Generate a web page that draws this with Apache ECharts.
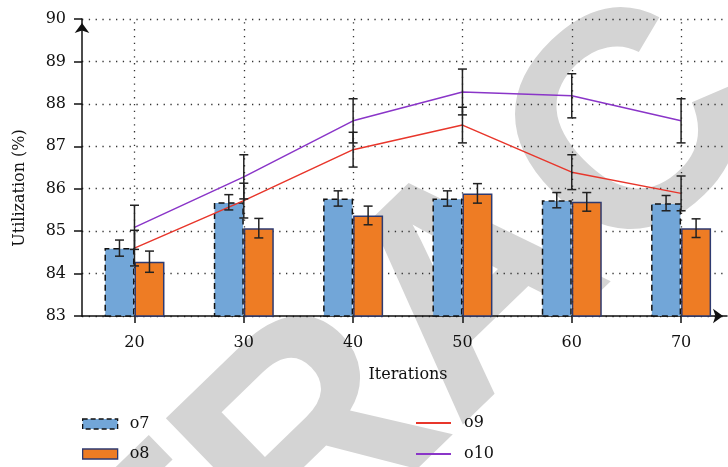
<!DOCTYPE html>
<html>
<head>
<meta charset="utf-8">
<script src="https://cdn.jsdelivr.net/npm/echarts@6/dist/echarts.min.js"></script>
<style>
html,body{margin:0;padding:0;background:#fff;}
#chart{width:728px;height:467px;}
</style>
</head>
<body>
<div id="chart"></div>
<script>
var iterations = [20, 30, 40, 50, 60, 70];
var o7 = [84.6, 85.68, 85.77, 85.77, 85.73, 85.66];
var o7Err = [0.19, 0.18, 0.18, 0.18, 0.18, 0.18];
var o8 = [84.28, 85.07, 85.37, 85.89, 85.69, 85.07];
var o8Err = [0.25, 0.23, 0.22, 0.23, 0.22, 0.22];
var o9 = [84.6, 85.72, 86.92, 87.5, 86.39, 85.89];
var o9Err = [0.42, 0.41, 0.41, 0.42, 0.41, 0.41];
var o10 = [85.09, 86.28, 87.6, 88.28, 88.19, 87.6];
var o10Err = [0.52, 0.52, 0.52, 0.54, 0.52, 0.52];

var FONT = "'DejaVu Serif', 'Liberation Serif', serif";

function pairs(vals) { return iterations.map(function (x, i) { return [x, vals[i]]; }); }
function errTriples(vals, errs) { return iterations.map(function (x, i) { return [x, vals[i], errs[i]]; }); }

function errorSeries(name, vals, errs, pxOffset) {
  return {
    type: 'custom',
    name: name + ' error',
    z: 5,
    silent: true,
    data: errTriples(vals, errs),
    renderItem: function (params, api) {
      var x = api.value(0), y = api.value(1), e = api.value(2);
      var hi = api.coord([x, y + e]);
      var lo = api.coord([x, y - e]);
      var cx = hi[0] + pxOffset;
      var cap = 4.5;
      var st = { stroke: '#222', lineWidth: 1.5 };
      return {
        type: 'group',
        children: [
          { type: 'line', shape: { x1: cx, y1: hi[1], x2: cx, y2: lo[1] }, style: st },
          { type: 'line', shape: { x1: cx - cap, y1: hi[1], x2: cx + cap, y2: hi[1] }, style: st },
          { type: 'line', shape: { x1: cx - cap, y1: lo[1], x2: cx + cap, y2: lo[1] }, style: st }
        ]
      };
    }
  };
}

function legendItem(name, left, top, w, h, gap, itemStyle) {
  var l = {
    data: [name], left: left, top: top, padding: 0, icon: 'rect',
    itemWidth: w, itemHeight: h,
    textStyle: { fontFamily: FONT, fontSize: 16, color: '#111', padding: [0, 0, 0, gap] }
  };
  if (itemStyle) l.itemStyle = itemStyle;
  return l;
}

var chart = echarts.init(document.getElementById('chart'), null, { renderer: 'canvas' });

var option = {
  animation: false,
  backgroundColor: '#ffffff',
  grid: { left: 82, right: 1, top: 19, bottom: 151, containLabel: false },
  xAxis: {
    type: 'value',
    min: 15.2,
    max: 74.2,
    axisLine: { show: true, lineStyle: { color: '#111', width: 1.5 }, symbol: ['none', 'arrow'], symbolSize: [11, 10], symbolOffset: [0, -4] },
    axisTick: { show: true, length: 7, inside: false, lineStyle: { color: '#111', width: 1.5 }, customValues: iterations },
    axisLabel: { color: '#111', fontFamily: FONT, fontSize: 16, margin: 19, customValues: iterations },
    splitLine: { show: false }
  },
  yAxis: {
    type: 'value',
    min: 83,
    max: 90,
    interval: 1,
    axisLine: { show: true, lineStyle: { color: '#111', width: 1.5 }, symbol: ['none', 'arrow'], symbolSize: [11, 10], symbolOffset: [0, -4] },
    axisTick: { show: true, length: 8, inside: false, lineStyle: { color: '#111', width: 1.5 } },
    axisLabel: { color: '#111', fontFamily: FONT, fontSize: 16, margin: 16 },
    splitLine: { show: true, lineStyle: { color: '#333', width: 1.3, type: [1.3, 5.5] } }
  },
  legend: [
    legendItem('o7', 82, 416, 35, 10, 7, { color: '#72A6D8', borderColor: '#111', borderWidth: 1.3, borderType: [5, 3] }),
    legendItem('o8', 82, 446, 35, 10, 7, { color: '#EE7C24', borderColor: '#2E3A70', borderWidth: 1.3 }),
    legendItem('o9', 416, 415, 35, 2, 8),
    legendItem('o10', 416, 446, 35, 2, 8)
  ],
  graphic: [
    {
      type: 'text', z: -100,
      x: 478, y: 292, rotation: 0.77,
      style: { text: 'RETRACTED', fill: '#d4d4d4', font: 'bold 307px "Liberation Sans", Arial, sans-serif', textAlign: 'center', textVerticalAlign: 'middle' }
    },
    {
      type: 'text', x: 20, y: 188, rotation: Math.PI / 2,
      style: { text: 'Utilization (%)', fill: '#111', font: '16px ' + FONT, textAlign: 'center', textVerticalAlign: 'middle' }
    },
    {
      type: 'text', x: 408, y: 375,
      style: { text: 'Iterations', fill: '#111', font: '16px ' + FONT, textAlign: 'center', textVerticalAlign: 'middle' }
    }
  ],
  series: [
    {
      name: 'vgrid', type: 'line', data: [], silent: true, z: 1,
      markLine: {
        silent: true, symbol: ['none', 'none'], label: { show: false },
        lineStyle: { color: '#333', width: 1.3, type: [1.3, 5.5] },
        data: iterations.map(function (v) { return { xAxis: v }; })
      }
    },
    {
      name: 'o7', type: 'bar', barWidth: 30, barGap: '0%', z: 2,
      data: pairs(o7),
      itemStyle: { color: '#72A6D8', borderColor: '#111', borderWidth: 1.5, borderType: [6, 4] }
    },
    {
      name: 'o8', type: 'bar', barWidth: 30, barGap: '0%', z: 2,
      data: pairs(o8),
      itemStyle: { color: '#EE7C24', borderColor: '#2E3A70', borderWidth: 1.5 }
    },
    {
      name: 'o9', type: 'line', z: 3, symbol: 'none',
      data: pairs(o9),
      lineStyle: { color: '#E8362B', width: 1.5 }, itemStyle: { color: '#E8362B' }
    },
    {
      name: 'o10', type: 'line', z: 3, symbol: 'none',
      data: pairs(o10),
      lineStyle: { color: '#8A35C8', width: 1.5 }, itemStyle: { color: '#8A35C8' }
    },
    errorSeries('o7', o7, o7Err, -15),
    errorSeries('o8', o8, o8Err, 15),
    errorSeries('o9', o9, o9Err, 0),
    errorSeries('o10', o10, o10Err, 0)
  ]
};
chart.setOption(option);
</script>
</body>
</html>
